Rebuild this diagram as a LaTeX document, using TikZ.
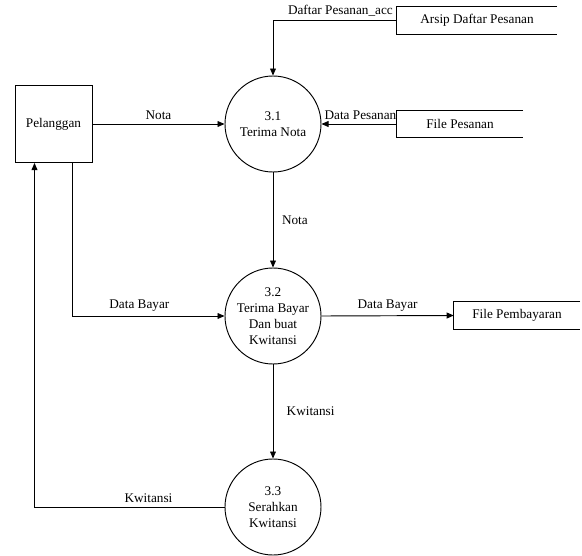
\documentclass[tikz,border=0pt]{standalone}
\usepackage{fontspec}
\setmainfont{Liberation Serif}
\usetikzlibrary{arrows.meta}
\tikzset{process/.style={circle, draw=black, line width=0.8pt, minimum size=2.88cm, inner sep=0pt, align=center}}
\tikzset{entity/.style={rectangle, draw=black, line width=0.8pt, minimum width=2.31cm, minimum height=2.31cm}}
\tikzset{store/.style={rectangle, minimum height=0.81cm, inner sep=0pt}}
\tikzset{flow/.style={line width=0.8pt, -{Triangle[length=6pt,width=5pt]}}}

\begin{document}
\begin{tikzpicture}[x=0.03cm, y=-0.03cm, font=\fontsize{11.3}{13.6}\selectfont]
        \useasboundingbox (0,0) rectangle (582,556);
        \node [entity](pelanggan) at (53.5,124) {Pelanggan};
        \node [process](p31) at (273,124) {3.1\\Terima Nota};
        \node [process](p32) at (273,316) {3.2\\Terima Bayar\\Dan buat\\Kwitansi};
        \node [process](p33) at (273,507) {3.3\\Serahkan\\Kwitansi};
        \node [store, minimum width=4.8cm](arsip) at (477,20.5) {Arsip Daftar Pesanan};
        \node [store, minimum width=3.78cm](filepesanan) at (460,124) {File Pesanan};
        \node [store, minimum width=3.78cm](filebayar) at (517,315.5) {File Pembayaran};

        % data stores open on the right
        \foreach \s in {arsip,filepesanan,filebayar}
            \draw [line width=0.8pt] (\s.north east) -- (\s.north west) -- (\s.south west) -- (\s.south east);

        \draw [flow] (pelanggan.east) -- node[above]{Nota} (p31.west);
        \draw [flow] (arsip.west) -| node[pos=0, anchor=south east, inner xsep=3pt]{Daftar Pesanan\_acc} (p31.north);
        \draw [flow] (filepesanan.west) -- node[pos=0, anchor=south east, inner xsep=0pt]{Data Pesanan} (p31.east);
        \draw [flow] (p31) -- node[right=0.14cm]{Nota} (p32);
        \draw [flow] ([xshift=0.57cm]pelanggan.south) |- node[pos=0.72, above]{Data Bayar} (p32.west);
        \draw [flow] (p32.east) -- node[above]{Data Bayar} (filebayar.west);
        \draw [flow] (p32) -- node[right=0.28cm]{Kwitansi} (p33);
        \draw [flow] (p33.west) -| node[pos=0.2, above]{Kwitansi} ([xshift=-0.57cm]pelanggan.south);
\end{tikzpicture}
\end{document}
